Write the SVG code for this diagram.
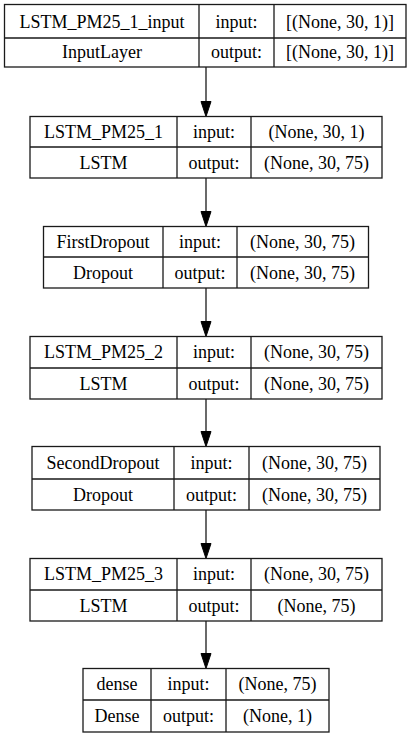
<svg xmlns="http://www.w3.org/2000/svg" width="412" height="737" viewBox="0 0 412 737">
<defs>
<style>
.box{fill:#fff;stroke:#1a1a1a;stroke-width:1.3}
.ln{stroke:#1a1a1a;stroke-width:1.3;fill:none}
.t{font-family:'Liberation Serif','DejaVu Serif',serif;font-size:18px;fill:#000;text-anchor:middle}
.edge{stroke:#1a1a1a;stroke-width:1.3;fill:none}
.head{fill:#000;stroke:#000;stroke-width:1}
</style>
</defs>
<rect width="412" height="737" fill="#fff"/>
<g id="connectors">
<path class="edge" d="M206 67V102"/><polygon class="head" points="206,116.5 201,101.5 211,101.5"/>
<path class="edge" d="M206 178V212"/><polygon class="head" points="206,226.5 201,211.5 211,211.5"/>
<path class="edge" d="M206 288V322"/><polygon class="head" points="206,336.5 201,321.5 211,321.5"/>
<path class="edge" d="M206 399V432"/><polygon class="head" points="206,446.5 201,431.5 211,431.5"/>
<path class="edge" d="M206 510V544"/><polygon class="head" points="206,558.5 201,543.5 211,543.5"/>
<path class="edge" d="M206 621V654"/><polygon class="head" points="206,668.5 201,653.5 211,653.5"/>
</g>
<g id="node1" class="t">
<rect class="box" x="4.5" y="4.5" width="401.5" height="62.5"/>
<path class="ln" d="M4.5 38H406M199 4.5V67M274 4.5V67"/>
<text x="102" y="27.5">LSTM_PM25_1_input</text>
<text x="236.5" y="27.5">input:</text>
<text x="340" y="27.5">[(None, 30, 1)]</text>
<text x="102" y="58">InputLayer</text>
<text x="236.5" y="58">output:</text>
<text x="340" y="58">[(None, 30, 1)]</text>
</g>
<g id="node2" class="t">
<rect class="box" x="30" y="116.5" width="352" height="61.5"/>
<path class="ln" d="M30 147H382M177 116.5V178M251 116.5V178"/>
<text x="103.5" y="138">LSTM_PM25_1</text>
<text x="214" y="138">input:</text>
<text x="316.5" y="138">(None, 30, 1)</text>
<text x="103.5" y="168.5">LSTM</text>
<text x="214" y="168.5">output:</text>
<text x="316.5" y="168.5">(None, 30, 75)</text>
</g>
<g id="node3" class="t">
<rect class="box" x="43.5" y="226.5" width="325" height="61.5"/>
<path class="ln" d="M43.5 257H368.5M163 226.5V288M237 226.5V288"/>
<text x="103" y="248">FirstDropout</text>
<text x="200" y="248">input:</text>
<text x="302.5" y="248">(None, 30, 75)</text>
<text x="103" y="278.5">Dropout</text>
<text x="200" y="278.5">output:</text>
<text x="302.5" y="278.5">(None, 30, 75)</text>
</g>
<g id="node4" class="t">
<rect class="box" x="30" y="336.5" width="352" height="62.5"/>
<path class="ln" d="M30 368H382M177 336.5V399M251 336.5V399"/>
<text x="103.5" y="358">LSTM_PM25_2</text>
<text x="214" y="358">input:</text>
<text x="316.5" y="358">(None, 30, 75)</text>
<text x="103.5" y="389.5">LSTM</text>
<text x="214" y="389.5">output:</text>
<text x="316.5" y="389.5">(None, 30, 75)</text>
</g>
<g id="node5" class="t">
<rect class="box" x="32" y="446.5" width="348" height="63.5"/>
<path class="ln" d="M32 479H380M174 446.5V510M249 446.5V510"/>
<text x="103" y="468.5">SecondDropout</text>
<text x="211.5" y="468.5">input:</text>
<text x="314.5" y="468.5">(None, 30, 75)</text>
<text x="103" y="500.5">Dropout</text>
<text x="211.5" y="500.5">output:</text>
<text x="314.5" y="500.5">(None, 30, 75)</text>
</g>
<g id="node6" class="t">
<rect class="box" x="30" y="558.5" width="352" height="62.5"/>
<path class="ln" d="M30 590H382M177 558.5V621M251 558.5V621"/>
<text x="103.5" y="580">LSTM_PM25_3</text>
<text x="214" y="580">input:</text>
<text x="316.5" y="580">(None, 30, 75)</text>
<text x="103.5" y="611.5">LSTM</text>
<text x="214" y="611.5">output:</text>
<text x="316.5" y="611.5">(None, 75)</text>
</g>
<g id="node7" class="t">
<rect class="box" x="83" y="668.5" width="246" height="63.5"/>
<path class="ln" d="M83 700H329M151 668.5V732M226 668.5V732"/>
<text x="117" y="690">dense</text>
<text x="188.5" y="690">input:</text>
<text x="277.5" y="690">(None, 75)</text>
<text x="117" y="722">Dense</text>
<text x="188.5" y="722">output:</text>
<text x="277.5" y="722">(None, 1)</text>
</g>
</svg>
